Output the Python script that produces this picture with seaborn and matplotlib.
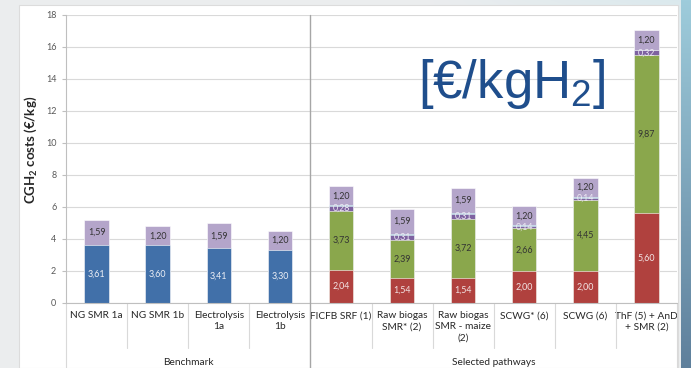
import numpy as np
import pandas as pd
import matplotlib
matplotlib.use("Agg")
import matplotlib.pyplot as plt
from matplotlib.patches import Rectangle
import seaborn as sns

# ---- data -------------------------------------------------------------
bench_names = ["NG SMR 1a", "NG SMR 1b", "Electrolysis\n1a", "Electrolysis\n1b"]
bench_production = [3.61, 3.60, 3.41, 3.30]
bench_distribution = [1.59, 1.20, 1.59, 1.20]

path_names = ["FICFB SRF (1)", "Raw biogas\nSMR* (2)", "Raw biogas\nSMR - maize\n(2)",
              "SCWG* (6)", "SCWG (6)", "ThF (5) + AnD\n+ SMR (2)"]
path_feedstock = [2.04, 1.54, 1.54, 2.00, 2.00, 5.60]
path_conversion = [3.73, 2.39, 3.72, 2.66, 4.45, 9.87]
path_upgrading = [0.28, 0.31, 0.31, 0.14, 0.14, 0.32]
path_other = [0.05, 0.05, 0.05, 0.05, 0.05, 0.05]
path_distribution = [1.20, 1.59, 1.59, 1.20, 1.20, 1.20]

groups = ["Benchmark", "Selected pathways"]
yticks = [0, 2, 4, 6, 8, 10, 12, 14, 16, 18]

all_names = bench_names + path_names

# ---- style ------------------------------------------------------------
sns.set_style("white")
plt.rcParams["font.family"] = ["Lato", "DejaVu Sans"]
plt.rcParams["mathtext.fontset"] = "custom"
plt.rcParams["mathtext.rm"] = "Liberation Sans"
plt.rcParams["mathtext.bf"] = "Lato:bold"

C_BLUE = "#4170A9"
C_LAV = "#B4A5CA"
C_RED = "#B0413E"
C_GREEN = "#8AA74C"
C_PURPLE = "#7E62A1"
C_CYAN = "#4BACC6"

W, H = 691, 368
fig = plt.figure(figsize=(W / 100, H / 100), dpi=100)

# slide background
bg = fig.add_axes([0, 0, 1, 1], zorder=-10)
yy, xx = np.mgrid[0:H, 0:W]
img = np.ones((H, W, 3)) * np.array([0.925, 0.93, 0.935])
tint = np.clip((xx - 420) / 270, 0, 1) * np.clip(1 - yy / 40, 0, 1)
img = img * (1 - tint[..., None] * 0.35) + tint[..., None] * 0.35 * np.array([0.72, 0.88, 0.92])
bg.imshow(img, extent=(0, W, H, 0), aspect="auto")
bg.add_patch(Rectangle((19, 5), 659, H - 5, facecolor="white", edgecolor="#dcdcdc", lw=0.8))
strip = np.linspace(0, 1, H)[:, None, None] * np.array([-0.25, -0.3, -0.25]) + np.array([0.62, 0.8, 0.86])
bg.imshow(np.repeat(strip, 2, axis=1), extent=(681, W, H, 0), aspect="auto")
bg.set_xlim(0, W)
bg.set_ylim(H, 0)
bg.axis("off")

ax = fig.add_axes([66 / W, 65 / H, 611 / W, 288 / H])
ax.patch.set_alpha(0)


def stacked(ax, names, layers, colors):
    tops = np.cumsum(np.array(layers), axis=0)
    # tallest cumulative layer first, lower layers painted over it
    for top, col in list(zip(tops, colors))[::-1]:
        df = pd.DataFrame({"name": names, "value": top})
        sns.barplot(data=df, x="name", y="value", order=all_names, color=col,
                    width=0.4, errorbar=None, saturation=1, edgecolor="white",
                    linewidth=0.4, ax=ax)
    return tops


fmt = lambda v: f"{v:.2f}".replace(".", ",")

b_layers = [bench_production, bench_distribution]
b_tops = stacked(ax, bench_names, b_layers, [C_BLUE, C_LAV])
p_layers = [path_feedstock, path_conversion, path_upgrading, path_other, path_distribution]
p_tops = stacked(ax, path_names, p_layers, [C_RED, C_GREEN, C_PURPLE, C_CYAN, C_LAV])

# value labels
def annotate(names, layers, tops, text_colors):
    for li, (vals, top) in enumerate(zip(layers, tops)):
        tc = text_colors[li]
        if tc is None:
            continue
        for n, v, t in zip(names, vals, top):
            x = all_names.index(n)
            ax.text(x, t - v / 2, fmt(v), ha="center", va="center",
                    fontsize=6.4, color=tc, zorder=5)


annotate(bench_names, b_layers, b_tops, ["#eef0f6", "#333333"])
annotate(path_names, p_layers, p_tops, ["#f3e6e6", "#333333", "#eeeaf4", None, "#333333"])

# axes formatting
ax.set_ylim(0, 18)
ax.set_xlim(-0.5, len(all_names) - 0.5)
ax.set_yticks(yticks)
ax.set_yticklabels([str(t) for t in yticks], fontsize=6.5, color="#595959")
ax.yaxis.grid(True, color="#d9d9d9", lw=0.8)
ax.set_axisbelow(True)
ax.tick_params(axis="y", length=3, color="#bfbfbf", pad=4, left=True)
ax.set_xticks(range(len(all_names)))
ax.set_xticklabels(all_names, fontsize=7.3, color="#262626", linespacing=1.3)
ax.tick_params(axis="x", length=0, pad=6)
ax.set_xlabel("")
for s in ["top", "right"]:
    ax.spines[s].set_visible(False)
ax.spines["left"].set_color("#bfbfbf")
ax.spines["bottom"].set_color("#bfbfbf")
ax.spines["left"].set_linewidth(0.8)
ax.spines["bottom"].set_linewidth(0.8)

ax.set_ylabel(r"CGH$_\mathbf{2}$ costs (€/kg)", fontsize=9.5, fontweight="bold", color="#262626")
ax.yaxis.set_label_coords(-0.045, 0.53)

# multi-level category separators
trans = ax.get_xaxis_transform()
n_bench = len(bench_names)
for k in range(len(all_names) - 1):
    xb = k + 0.5
    if k == n_bench - 1:
        ax.plot([xb, xb], [1, -0.226], transform=trans, color="#a6a6a6", lw=1.0, clip_on=False, zorder=3)
    else:
        ax.plot([xb, xb], [0, -0.156], transform=trans, color="#d9d9d9", lw=0.8, clip_on=False)
for xb in [-0.5, len(all_names) - 0.5]:
    ax.plot([xb, xb], [0, -0.226], transform=trans, color="#d9d9d9", lw=0.8, clip_on=False)

ax.text((n_bench - 1) / 2, -0.207, groups[0], transform=trans, ha="center", va="center",
        fontsize=7.3, color="#262626")
ax.text(n_bench + (len(path_names) - 1) / 2, -0.207, groups[1], transform=trans, ha="center",
        va="center", fontsize=7.3, color="#262626")

# unit caption
fig.text(418 / W, (H - 84) / H, r"[€/kgH$_2$]", fontsize=38, color="#1F4E8C",
         family="Liberation Sans", ha="left", va="center")

fig.savefig("out.png", dpi=100)
